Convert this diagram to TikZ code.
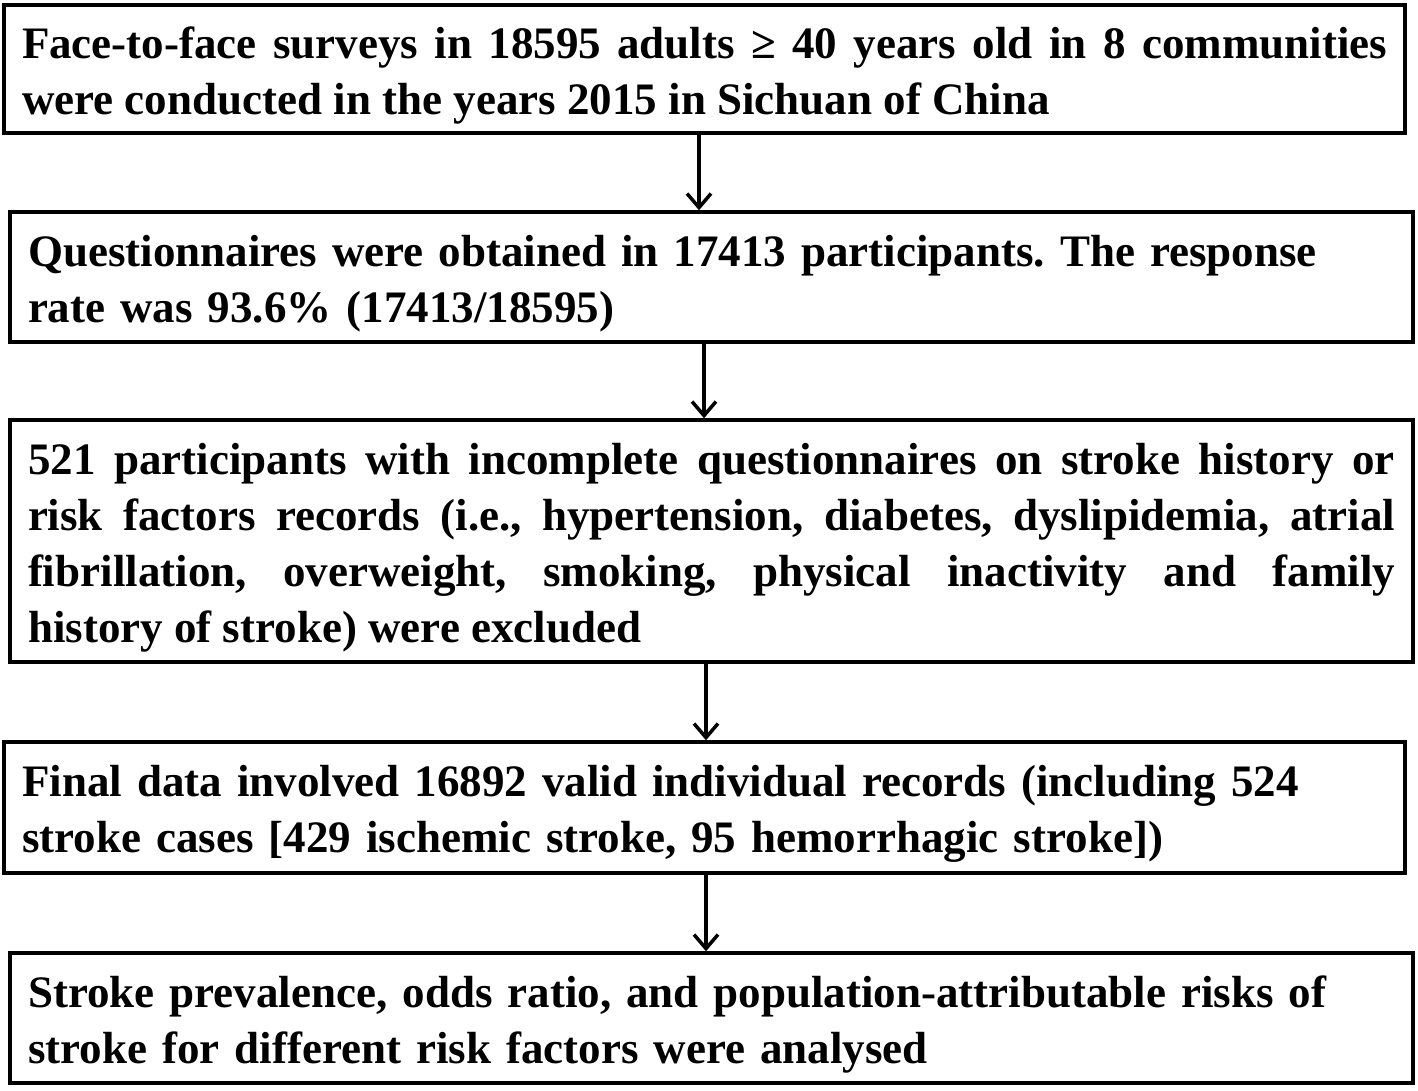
\documentclass[tikz,border=0pt]{standalone}
\usepackage{fontspec}
\setmainfont{Liberation Serif}
\usetikzlibrary{arrows.meta}
\frenchspacing
\begin{document}
\begin{tikzpicture}[x=1pt,y=-1pt,
  flowbox/.style={draw=black, line width=3.5pt, inner xsep=18pt, inner ysep=0pt,
    font=\fontsize{45}{56}\selectfont\bfseries\frenchspacing, align=left,
    execute at end node={\endgraf\vspace{-13pt}}},
  flowarrow/.style={line width=3.5pt, -{Straight Barb[length=14pt,width=24pt,line width=3.5pt]}}]
\useasboundingbox (0,0) rectangle (1418,1090);
\fill[white] (0,0) rectangle (1418,1090);
\node[flowbox, text width=1365pt, minimum height=128pt, align=justify] (b1) at (704.5,69)
  {Face-to-face surveys in 18595 adults ≥ 40 years old in 8 communities\linebreak were conducted in the years 2015 in Sichuan of China};
\node[flowbox, text width=1367pt, minimum height=130pt] (b2) at (711.5,277)
  {Questionnaires were obtained in 17413 participants. The response\\ rate was 93.6\% (17413/18595)};
\node[flowbox, text width=1367pt, minimum height=242pt, align=justify] (b3) at (711.5,541)
  {521 participants with incomplete questionnaires on stroke history or\linebreak risk factors records (i.e., hypertension, diabetes, dyslipidemia, atrial\linebreak fibrillation, overweight, smoking, physical inactivity and family\linebreak history of stroke) were excluded};
\node[flowbox, text width=1365pt, minimum height=131pt] (b4) at (704.5,807.5)
  {Final data involved 16892 valid individual records (including 524\\ stroke cases [429 ischemic stroke, 95 hemorrhagic stroke])};
\node[flowbox, text width=1367pt, minimum height=130pt] (b5) at (711.5,1018)
  {Stroke prevalence, odds ratio, and population-attributable risks of\\ stroke for different risk factors were analysed};
\draw[flowarrow] (699,0 |- b1.south) -- (699,0 |- b2.north);
\draw[flowarrow] (704,0 |- b2.south) -- (704,0 |- b3.north);
\draw[flowarrow] (706,0 |- b3.south) -- (706,0 |- b4.north);
\draw[flowarrow] (706,0 |- b4.south) -- (706,0 |- b5.north);
\end{tikzpicture}
\end{document}
